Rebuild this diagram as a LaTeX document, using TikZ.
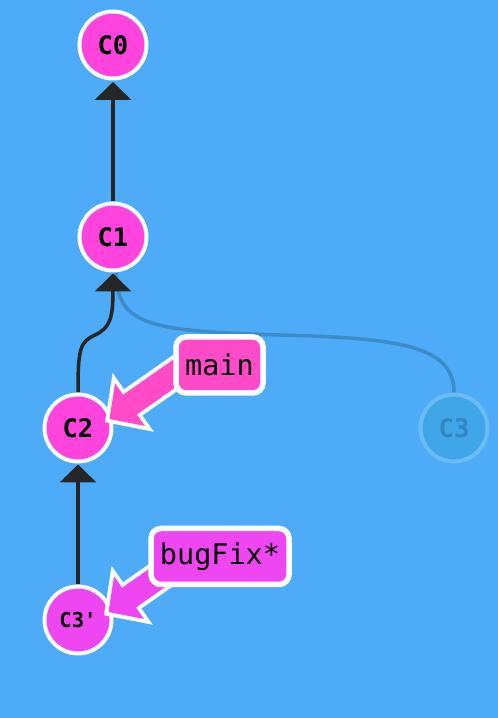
\documentclass[tikz,border=0pt]{standalone}
\usepackage{fontspec}
\usetikzlibrary{arrows.meta,calc}
\newfontfamily\monofam{DejaVu Sans Mono}
\definecolor{bgblue}{HTML}{4DABF7}
\definecolor{commitpink}{HTML}{FF44DD}
\definecolor{mainpink}{HTML}{FF4BC8}
\definecolor{bugpurple}{HTML}{EE46F0}
\definecolor{edgedark}{HTML}{262626}
\definecolor{fadefill}{HTML}{3FA6E8}
\definecolor{fadeborder}{HTML}{6CBCF4}
\definecolor{fadetext}{HTML}{3585BF}
\definecolor{fadeedge}{HTML}{3C8CC8}
\pgfdeclarelayer{backdrop}
\pgfdeclarelayer{edgelayer}
\pgfsetlayers{backdrop,edgelayer,main}
\begin{document}
\begin{tikzpicture}[x=1pt,y=1pt,
  commit/.style={circle, draw=white, line width=4pt, fill=commitpink, minimum size=67pt, inner sep=0pt,
    font=\monofam\bfseries\fontsize{25.5}{25.5}\selectfont, text=black},
  fadedcommit/.style={commit, draw=fadeborder, fill=fadefill, text=fadetext},
  edge/.style={draw=edgedark, line width=3.5pt, -{Triangle[length=18pt,width=36pt]}},
  fadededge/.style={draw=fadeedge, line width=3.5pt},
  branchlabel/.style={draw=white, line width=5.5pt, rounded corners=10pt, minimum height=56pt, inner sep=0pt,
    font=\monofam\fontsize{28.5}{28.5}\selectfont, text=black},
  ptrbody/.style={draw=white, line width=8pt, line join=miter},
]
\useasboundingbox (0,0) rectangle (498,718);
\begin{pgfonlayer}{backdrop}
\fill[bgblue] (0,0) rectangle (498,718);
\end{pgfonlayer}

% commits
\node[commit] (C0) at (113,673) {C0};
\node[commit] (C1) at (113,481) {C1};
\node[commit] (C2) at (78,290) {C2};
\node[commit, fill=bugpurple, font=\monofam\bfseries\fontsize{20.5}{20.5}\selectfont] (C3p) at (78,98) {C3'};
\node[fadedcommit] (C3) at (454,290) {C3};

% edges (below the commits)
\begin{pgfonlayer}{edgelayer}
\path[fadededge] (C3.north) .. controls (454,372) and (400,380) .. (280,383)
  .. controls (150,387) and (117,392) .. (C1.-85);
\draw[edge, shorten >=1.5pt] (C1) -- (C0);
\draw[edge, shorten >=1pt] (C2.north) .. controls (78,370) and (80,376) .. (95,383)
  .. controls (110,390) and (113,400) .. (C1.south);
\draw[edge, shorten >=1pt] (C3p) -- (C2);
\end{pgfonlayer}

% branch pointers
\begin{scope}[shift={($(C2)+(31.5,9)$)}, rotate=35]
  \path[ptrbody] (0,0) -- (25,26) -- (25,12) -- (110,12) -- (110,-12) -- (25,-12) -- (25,-26) -- cycle;
  \fill[mainpink] (0,0) -- (25,26) -- (25,12) -- (110,12) -- (110,-12) -- (25,-12) -- (25,-26) -- cycle;
\end{scope}
\begin{scope}[shift={($(C3p)+(30.5,8)$)}, rotate=35]
  \path[ptrbody] (0,0) -- (25,26) -- (25,12) -- (110,12) -- (110,-12) -- (25,-12) -- (25,-26) -- cycle;
  \fill[bugpurple] (0,0) -- (25,26) -- (25,12) -- (110,12) -- (110,-12) -- (25,-12) -- (25,-26) -- cycle;
\end{scope}

% branch labels
\node[branchlabel, fill=mainpink, minimum width=87pt] (main) at (219.5,353) {main};
\node[branchlabel, fill=bugpurple, minimum width=138pt] (bugFix) at (220,161.5) {bugFix*};
\end{tikzpicture}
\end{document}
